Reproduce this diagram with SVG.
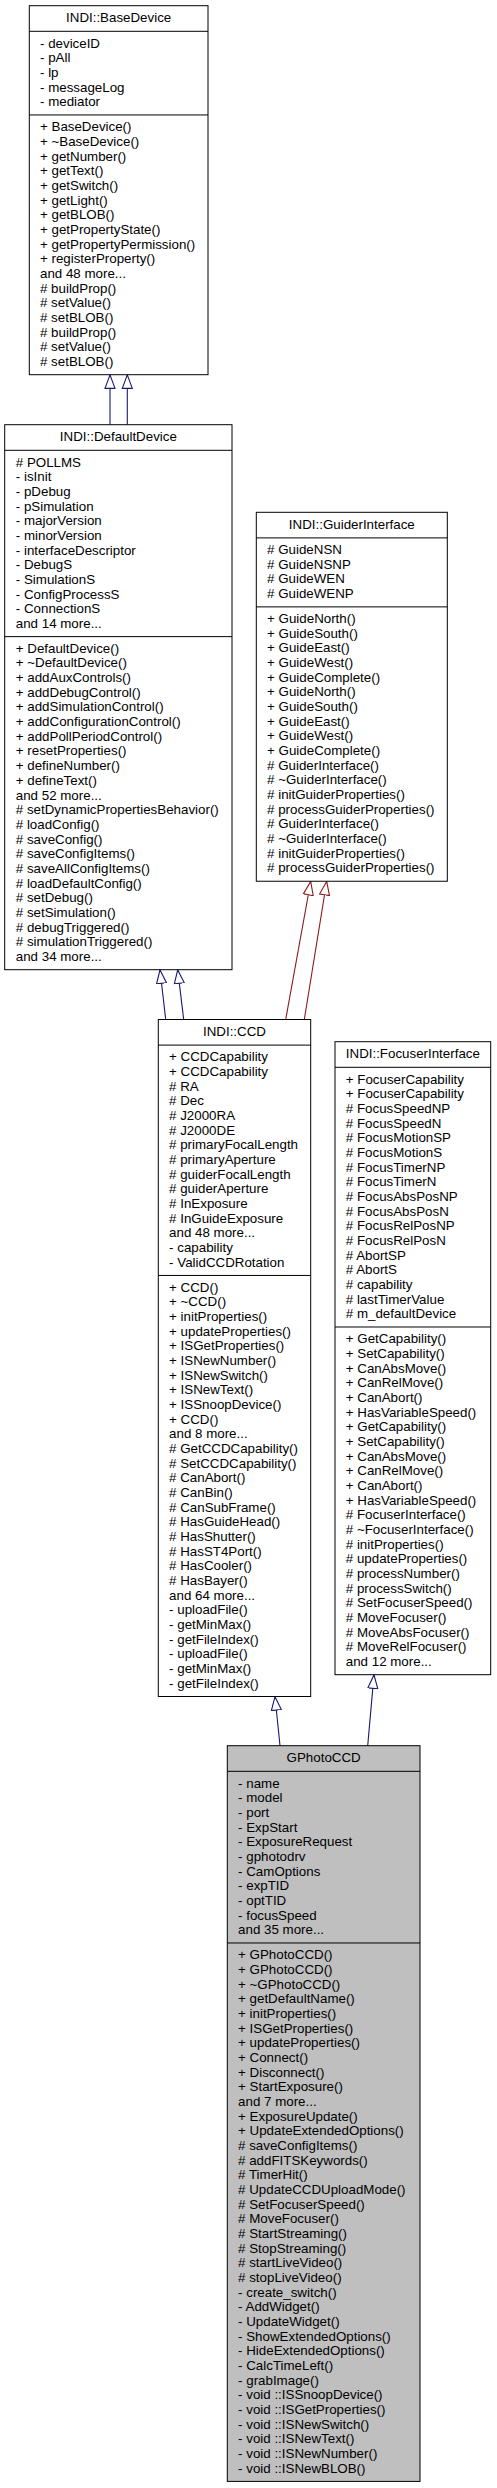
<svg xmlns="http://www.w3.org/2000/svg" width="497" height="2488" viewBox="0 0 497 2488">
<style>
.box{fill:#fff;stroke:#000;stroke-width:1}
.hl{fill:#bfbfbf;stroke:#000;stroke-width:1}
.div{stroke:#000;stroke-width:1}
text{font-family:"Liberation Sans",Arial,Helvetica,sans-serif;font-size:13.33px;fill:#000}
.t{text-anchor:middle}
.eb{fill:none;stroke:#191970;stroke-width:1.1}
.er{fill:none;stroke:#8b1a1a;stroke-width:1.1}
</style>
<defs>
<marker id="ab" markerUnits="userSpaceOnUse" viewBox="0 0 15 12" refX="14" refY="6" markerWidth="15" markerHeight="12" orient="auto">
<path d="M0.5,1 L14,6 L0.5,11 Z" fill="#fff" stroke="#191970" stroke-width="1.1"/>
</marker>
<marker id="ar" markerUnits="userSpaceOnUse" viewBox="0 0 15 12" refX="14" refY="6" markerWidth="15" markerHeight="12" orient="auto">
<path d="M0.5,1 L14,6 L0.5,11 Z" fill="#fff" stroke="#8b1a1a" stroke-width="1.1"/>
</marker>
</defs>

<g id="connectors">
<path class="eb" d="M110,424.7 L110,374.9" marker-end="url(#ab)"/>
<path class="eb" d="M127.3,424.7 L127.3,374.9" marker-end="url(#ab)"/>
<path class="eb" d="M165.7,1019.5 L160,969.9" marker-end="url(#ab)"/>
<path class="eb" d="M183.7,1019.5 L177.7,969.9" marker-end="url(#ab)"/>
<path class="er" d="M285.7,1019.5 L310.7,881.5" marker-end="url(#ar)"/>
<path class="er" d="M304.3,1019.5 L326.7,881.5" marker-end="url(#ar)"/>
<path class="eb" d="M280,1745.7 L275,1696.7" marker-end="url(#ab)"/>
<path class="eb" d="M367.7,1745.7 L374,1674.9" marker-end="url(#ab)"/>
</g>

<g id="BaseDevice">
<rect class="box" x="29.3" y="5.7" width="178.7" height="369"/>
<line class="div" x1="29.3" y1="31.3" x2="208" y2="31.3"/>
<line class="div" x1="29.3" y1="114.95" x2="208" y2="114.95"/>
<text class="t" x="118.65" y="22.1">INDI::BaseDevice</text>
<text x="40" y="47.5"><tspan x="40" dy="0">- deviceID</tspan><tspan x="40" dy="14.67">- pAll</tspan><tspan x="40" dy="14.67">- lp</tspan><tspan x="40" dy="14.67">- messageLog</tspan><tspan x="40" dy="14.67">- mediator</tspan></text>
<text x="40" y="131.2"><tspan x="40" dy="0">+ BaseDevice()</tspan><tspan x="40" dy="14.67">+ ~BaseDevice()</tspan><tspan x="40" dy="14.67">+ getNumber()</tspan><tspan x="40" dy="14.67">+ getText()</tspan><tspan x="40" dy="14.67">+ getSwitch()</tspan><tspan x="40" dy="14.67">+ getLight()</tspan><tspan x="40" dy="14.67">+ getBLOB()</tspan><tspan x="40" dy="14.67">+ getPropertyState()</tspan><tspan x="40" dy="14.67">+ getPropertyPermission()</tspan><tspan x="40" dy="14.67">+ registerProperty()</tspan><tspan x="40" dy="14.67">and 48 more...</tspan><tspan x="40" dy="14.67"># buildProp()</tspan><tspan x="40" dy="14.67"># setValue()</tspan><tspan x="40" dy="14.67"># setBLOB()</tspan><tspan x="40" dy="14.67"># buildProp()</tspan><tspan x="40" dy="14.67"># setValue()</tspan><tspan x="40" dy="14.67"># setBLOB()</tspan></text>
</g>

<g id="DefaultDevice">
<rect class="box" x="4.7" y="424.7" width="227.3" height="545"/>
<line class="div" x1="4.7" y1="450.3" x2="232" y2="450.3"/>
<line class="div" x1="4.7" y1="636.64" x2="232" y2="636.64"/>
<text class="t" x="118.35" y="441.1">INDI::DefaultDevice</text>
<text x="15.8" y="466.5"><tspan x="15.8" dy="0"># POLLMS</tspan><tspan x="15.8" dy="14.67">- isInit</tspan><tspan x="15.8" dy="14.67">- pDebug</tspan><tspan x="15.8" dy="14.67">- pSimulation</tspan><tspan x="15.8" dy="14.67">- majorVersion</tspan><tspan x="15.8" dy="14.67">- minorVersion</tspan><tspan x="15.8" dy="14.67">- interfaceDescriptor</tspan><tspan x="15.8" dy="14.67">- DebugS</tspan><tspan x="15.8" dy="14.67">- SimulationS</tspan><tspan x="15.8" dy="14.67">- ConfigProcessS</tspan><tspan x="15.8" dy="14.67">- ConnectionS</tspan><tspan x="15.8" dy="14.67">and 14 more...</tspan></text>
<text x="15.8" y="652.8"><tspan x="15.8" dy="0">+ DefaultDevice()</tspan><tspan x="15.8" dy="14.67">+ ~DefaultDevice()</tspan><tspan x="15.8" dy="14.67">+ addAuxControls()</tspan><tspan x="15.8" dy="14.67">+ addDebugControl()</tspan><tspan x="15.8" dy="14.67">+ addSimulationControl()</tspan><tspan x="15.8" dy="14.67">+ addConfigurationControl()</tspan><tspan x="15.8" dy="14.67">+ addPollPeriodControl()</tspan><tspan x="15.8" dy="14.67">+ resetProperties()</tspan><tspan x="15.8" dy="14.67">+ defineNumber()</tspan><tspan x="15.8" dy="14.67">+ defineText()</tspan><tspan x="15.8" dy="14.67">and 52 more...</tspan><tspan x="15.8" dy="14.67"># setDynamicPropertiesBehavior()</tspan><tspan x="15.8" dy="14.67"># loadConfig()</tspan><tspan x="15.8" dy="14.67"># saveConfig()</tspan><tspan x="15.8" dy="14.67"># saveConfigItems()</tspan><tspan x="15.8" dy="14.67"># saveAllConfigItems()</tspan><tspan x="15.8" dy="14.67"># loadDefaultConfig()</tspan><tspan x="15.8" dy="14.67"># setDebug()</tspan><tspan x="15.8" dy="14.67"># setSimulation()</tspan><tspan x="15.8" dy="14.67"># debugTriggered()</tspan><tspan x="15.8" dy="14.67"># simulationTriggered()</tspan><tspan x="15.8" dy="14.67">and 34 more...</tspan></text>
</g>

<g id="GuiderInterface">
<rect class="box" x="256.3" y="512.3" width="191" height="368.94"/>
<line class="div" x1="256.3" y1="537.9" x2="447.3" y2="537.9"/>
<line class="div" x1="256.3" y1="606.88" x2="447.3" y2="606.88"/>
<text class="t" x="351.8" y="528.7">INDI::GuiderInterface</text>
<text x="267.1" y="554.1"><tspan x="267.1" dy="0"># GuideNSN</tspan><tspan x="267.1" dy="14.67"># GuideNSNP</tspan><tspan x="267.1" dy="14.67"># GuideWEN</tspan><tspan x="267.1" dy="14.67"># GuideWENP</tspan></text>
<text x="267.1" y="623.1"><tspan x="267.1" dy="0">+ GuideNorth()</tspan><tspan x="267.1" dy="14.67">+ GuideSouth()</tspan><tspan x="267.1" dy="14.67">+ GuideEast()</tspan><tspan x="267.1" dy="14.67">+ GuideWest()</tspan><tspan x="267.1" dy="14.67">+ GuideComplete()</tspan><tspan x="267.1" dy="14.67">+ GuideNorth()</tspan><tspan x="267.1" dy="14.67">+ GuideSouth()</tspan><tspan x="267.1" dy="14.67">+ GuideEast()</tspan><tspan x="267.1" dy="14.67">+ GuideWest()</tspan><tspan x="267.1" dy="14.67">+ GuideComplete()</tspan><tspan x="267.1" dy="14.67"># GuiderInterface()</tspan><tspan x="267.1" dy="14.67"># ~GuiderInterface()</tspan><tspan x="267.1" dy="14.67"># initGuiderProperties()</tspan><tspan x="267.1" dy="14.67"># processGuiderProperties()</tspan><tspan x="267.1" dy="14.67"># GuiderInterface()</tspan><tspan x="267.1" dy="14.67"># ~GuiderInterface()</tspan><tspan x="267.1" dy="14.67"># initGuiderProperties()</tspan><tspan x="267.1" dy="14.67"># processGuiderProperties()</tspan></text>
</g>

<g id="CCD">
<rect class="box" x="158.3" y="1019.5" width="152.4" height="677"/>
<line class="div" x1="158.3" y1="1045.1" x2="310.7" y2="1045.1"/>
<line class="div" x1="158.3" y1="1275.45" x2="310.7" y2="1275.45"/>
<text class="t" x="234.5" y="1035.9">INDI::CCD</text>
<text x="169.1" y="1061.3"><tspan x="169.1" dy="0">+ CCDCapability</tspan><tspan x="169.1" dy="14.67">+ CCDCapability</tspan><tspan x="169.1" dy="14.67"># RA</tspan><tspan x="169.1" dy="14.67"># Dec</tspan><tspan x="169.1" dy="14.67"># J2000RA</tspan><tspan x="169.1" dy="14.67"># J2000DE</tspan><tspan x="169.1" dy="14.67"># primaryFocalLength</tspan><tspan x="169.1" dy="14.67"># primaryAperture</tspan><tspan x="169.1" dy="14.67"># guiderFocalLength</tspan><tspan x="169.1" dy="14.67"># guiderAperture</tspan><tspan x="169.1" dy="14.67"># InExposure</tspan><tspan x="169.1" dy="14.67"># InGuideExposure</tspan><tspan x="169.1" dy="14.67">and 48 more...</tspan><tspan x="169.1" dy="14.67">- capability</tspan><tspan x="169.1" dy="14.67">- ValidCCDRotation</tspan></text>
<text x="169.1" y="1291.7"><tspan x="169.1" dy="0">+ CCD()</tspan><tspan x="169.1" dy="14.67">+ ~CCD()</tspan><tspan x="169.1" dy="14.67">+ initProperties()</tspan><tspan x="169.1" dy="14.67">+ updateProperties()</tspan><tspan x="169.1" dy="14.67">+ ISGetProperties()</tspan><tspan x="169.1" dy="14.67">+ ISNewNumber()</tspan><tspan x="169.1" dy="14.67">+ ISNewSwitch()</tspan><tspan x="169.1" dy="14.67">+ ISNewText()</tspan><tspan x="169.1" dy="14.67">+ ISSnoopDevice()</tspan><tspan x="169.1" dy="14.67">+ CCD()</tspan><tspan x="169.1" dy="14.67">and 8 more...</tspan><tspan x="169.1" dy="14.67"># GetCCDCapability()</tspan><tspan x="169.1" dy="14.67"># SetCCDCapability()</tspan><tspan x="169.1" dy="14.67"># CanAbort()</tspan><tspan x="169.1" dy="14.67"># CanBin()</tspan><tspan x="169.1" dy="14.67"># CanSubFrame()</tspan><tspan x="169.1" dy="14.67"># HasGuideHead()</tspan><tspan x="169.1" dy="14.67"># HasShutter()</tspan><tspan x="169.1" dy="14.67"># HasST4Port()</tspan><tspan x="169.1" dy="14.67"># HasCooler()</tspan><tspan x="169.1" dy="14.67"># HasBayer()</tspan><tspan x="169.1" dy="14.67">and 64 more...</tspan><tspan x="169.1" dy="14.67">- uploadFile()</tspan><tspan x="169.1" dy="14.67">- getMinMax()</tspan><tspan x="169.1" dy="14.67">- getFileIndex()</tspan><tspan x="169.1" dy="14.67">- uploadFile()</tspan><tspan x="169.1" dy="14.67">- getMinMax()</tspan><tspan x="169.1" dy="14.67">- getFileIndex()</tspan></text>
</g>

<g id="FocuserInterface">
<rect class="box" x="335" y="1041.7" width="155.7" height="633"/>
<line class="div" x1="335" y1="1067.3" x2="490.7" y2="1067.3"/>
<line class="div" x1="335" y1="1326.99" x2="490.7" y2="1326.99"/>
<text class="t" x="412.85" y="1058.1">INDI::FocuserInterface</text>
<text x="345.8" y="1083.5"><tspan x="345.8" dy="0">+ FocuserCapability</tspan><tspan x="345.8" dy="14.67">+ FocuserCapability</tspan><tspan x="345.8" dy="14.67"># FocusSpeedNP</tspan><tspan x="345.8" dy="14.67"># FocusSpeedN</tspan><tspan x="345.8" dy="14.67"># FocusMotionSP</tspan><tspan x="345.8" dy="14.67"># FocusMotionS</tspan><tspan x="345.8" dy="14.67"># FocusTimerNP</tspan><tspan x="345.8" dy="14.67"># FocusTimerN</tspan><tspan x="345.8" dy="14.67"># FocusAbsPosNP</tspan><tspan x="345.8" dy="14.67"># FocusAbsPosN</tspan><tspan x="345.8" dy="14.67"># FocusRelPosNP</tspan><tspan x="345.8" dy="14.67"># FocusRelPosN</tspan><tspan x="345.8" dy="14.67"># AbortSP</tspan><tspan x="345.8" dy="14.67"># AbortS</tspan><tspan x="345.8" dy="14.67"># capability</tspan><tspan x="345.8" dy="14.67"># lastTimerValue</tspan><tspan x="345.8" dy="14.67"># m_defaultDevice</tspan></text>
<text x="345.8" y="1343.2"><tspan x="345.8" dy="0">+ GetCapability()</tspan><tspan x="345.8" dy="14.67">+ SetCapability()</tspan><tspan x="345.8" dy="14.67">+ CanAbsMove()</tspan><tspan x="345.8" dy="14.67">+ CanRelMove()</tspan><tspan x="345.8" dy="14.67">+ CanAbort()</tspan><tspan x="345.8" dy="14.67">+ HasVariableSpeed()</tspan><tspan x="345.8" dy="14.67">+ GetCapability()</tspan><tspan x="345.8" dy="14.67">+ SetCapability()</tspan><tspan x="345.8" dy="14.67">+ CanAbsMove()</tspan><tspan x="345.8" dy="14.67">+ CanRelMove()</tspan><tspan x="345.8" dy="14.67">+ CanAbort()</tspan><tspan x="345.8" dy="14.67">+ HasVariableSpeed()</tspan><tspan x="345.8" dy="14.67"># FocuserInterface()</tspan><tspan x="345.8" dy="14.67"># ~FocuserInterface()</tspan><tspan x="345.8" dy="14.67"># initProperties()</tspan><tspan x="345.8" dy="14.67"># updateProperties()</tspan><tspan x="345.8" dy="14.67"># processNumber()</tspan><tspan x="345.8" dy="14.67"># processSwitch()</tspan><tspan x="345.8" dy="14.67"># SetFocuserSpeed()</tspan><tspan x="345.8" dy="14.67"># MoveFocuser()</tspan><tspan x="345.8" dy="14.67"># MoveAbsFocuser()</tspan><tspan x="345.8" dy="14.67"># MoveRelFocuser()</tspan><tspan x="345.8" dy="14.67">and 12 more...</tspan></text>
</g>

<g id="GPhotoCCD">
<rect class="hl" x="227.3" y="1745.7" width="192.7" height="735.7"/>
<line class="div" x1="227.3" y1="1771.3" x2="420" y2="1771.3"/>
<line class="div" x1="227.3" y1="1942.97" x2="420" y2="1942.97"/>
<text class="t" x="323.65" y="1762.1">GPhotoCCD</text>
<text x="238.1" y="1787.5"><tspan x="238.1" dy="0">- name</tspan><tspan x="238.1" dy="14.67">- model</tspan><tspan x="238.1" dy="14.67">- port</tspan><tspan x="238.1" dy="14.67">- ExpStart</tspan><tspan x="238.1" dy="14.67">- ExposureRequest</tspan><tspan x="238.1" dy="14.67">- gphotodrv</tspan><tspan x="238.1" dy="14.67">- CamOptions</tspan><tspan x="238.1" dy="14.67">- expTID</tspan><tspan x="238.1" dy="14.67">- optTID</tspan><tspan x="238.1" dy="14.67">- focusSpeed</tspan><tspan x="238.1" dy="14.67">and 35 more...</tspan></text>
<text x="238.1" y="1959.2"><tspan x="238.1" dy="0">+ GPhotoCCD()</tspan><tspan x="238.1" dy="14.67">+ GPhotoCCD()</tspan><tspan x="238.1" dy="14.67">+ ~GPhotoCCD()</tspan><tspan x="238.1" dy="14.67">+ getDefaultName()</tspan><tspan x="238.1" dy="14.67">+ initProperties()</tspan><tspan x="238.1" dy="14.67">+ ISGetProperties()</tspan><tspan x="238.1" dy="14.67">+ updateProperties()</tspan><tspan x="238.1" dy="14.67">+ Connect()</tspan><tspan x="238.1" dy="14.67">+ Disconnect()</tspan><tspan x="238.1" dy="14.67">+ StartExposure()</tspan><tspan x="238.1" dy="14.67">and 7 more...</tspan><tspan x="238.1" dy="14.67">+ ExposureUpdate()</tspan><tspan x="238.1" dy="14.67">+ UpdateExtendedOptions()</tspan><tspan x="238.1" dy="14.67"># saveConfigItems()</tspan><tspan x="238.1" dy="14.67"># addFITSKeywords()</tspan><tspan x="238.1" dy="14.67"># TimerHit()</tspan><tspan x="238.1" dy="14.67"># UpdateCCDUploadMode()</tspan><tspan x="238.1" dy="14.67"># SetFocuserSpeed()</tspan><tspan x="238.1" dy="14.67"># MoveFocuser()</tspan><tspan x="238.1" dy="14.67"># StartStreaming()</tspan><tspan x="238.1" dy="14.67"># StopStreaming()</tspan><tspan x="238.1" dy="14.67"># startLiveVideo()</tspan><tspan x="238.1" dy="14.67"># stopLiveVideo()</tspan><tspan x="238.1" dy="14.67">- create_switch()</tspan><tspan x="238.1" dy="14.67">- AddWidget()</tspan><tspan x="238.1" dy="14.67">- UpdateWidget()</tspan><tspan x="238.1" dy="14.67">- ShowExtendedOptions()</tspan><tspan x="238.1" dy="14.67">- HideExtendedOptions()</tspan><tspan x="238.1" dy="14.67">- CalcTimeLeft()</tspan><tspan x="238.1" dy="14.67">- grabImage()</tspan><tspan x="238.1" dy="14.67">- void ::ISSnoopDevice()</tspan><tspan x="238.1" dy="14.67">- void ::ISGetProperties()</tspan><tspan x="238.1" dy="14.67">- void ::ISNewSwitch()</tspan><tspan x="238.1" dy="14.67">- void ::ISNewText()</tspan><tspan x="238.1" dy="14.67">- void ::ISNewNumber()</tspan><tspan x="238.1" dy="14.67">- void ::ISNewBLOB()</tspan></text>
</g>
</svg>
